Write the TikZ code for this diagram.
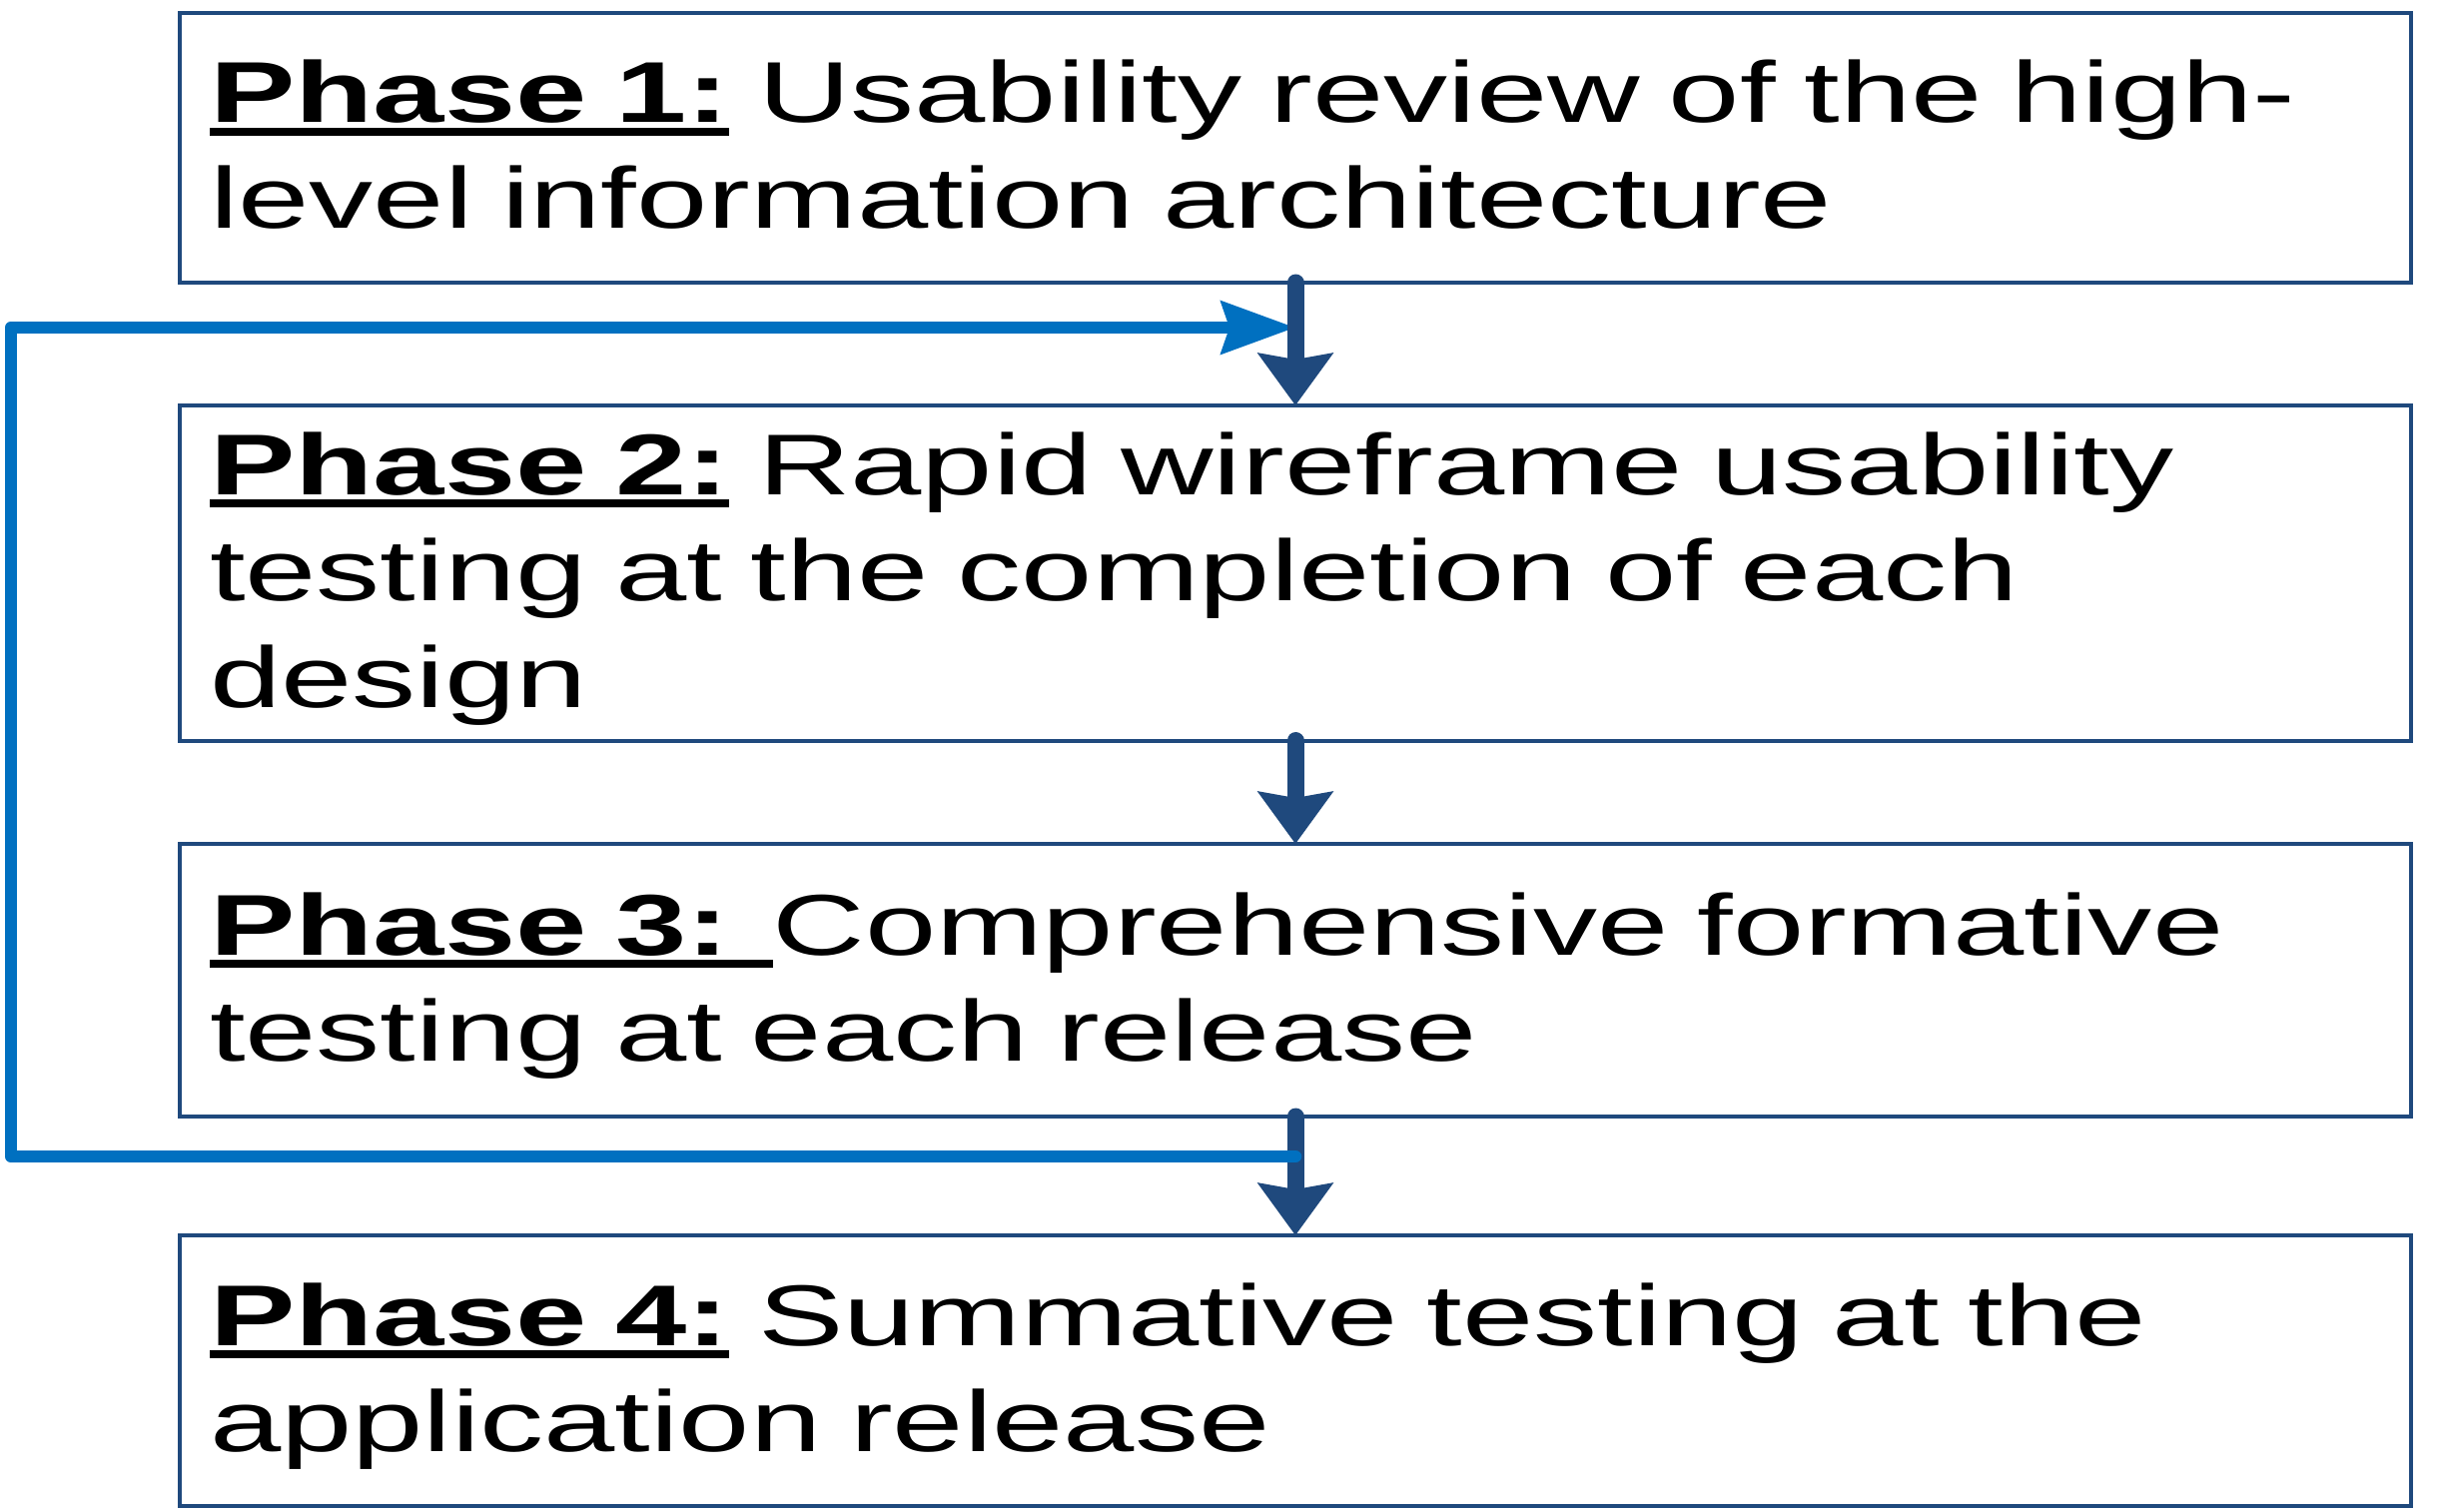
\documentclass[tikz,border=0pt]{standalone}
\usepackage{fontspec}
\usetikzlibrary{positioning,arrows.meta}
\newfontfamily\phasefont{Liberation Sans}[FakeStretch=1.482]
\definecolor{boxblue}{RGB}{31,73,125}
\definecolor{loopblue}{RGB}{0,112,192}
\newsavebox{\tagbox}
\newcommand{\phasetag}[1]{\sbox{\tagbox}{\bfseries #1}\rlap{\raisebox{-1.3mm}{\rule{\wd\tagbox}{0.8mm}}}\usebox{\tagbox}}
\begin{document}
\begin{tikzpicture}[x=1mm,y=1mm,
	phase/.style={draw=boxblue,line width=0.4mm,anchor=north west,minimum width=223.4mm,inner xsep=3mm,inner ysep=0pt,outer sep=0pt,text width=217.4mm,align=left,text height=6mm,font=\phasefont\fontsize{24.6pt}{30.3pt}\selectfont},
	flow/.style={draw=boxblue,line width=1.7mm,line cap=round,-{Stealth[length=5.2mm,width=7.4mm,inset=0.6mm]}},
	feedback/.style={draw=loopblue,line width=1.25mm,line cap=round,line join=round,-{Stealth[length=7.4mm,width=5.2mm,inset=0.8mm]}}]
	\useasboundingbox (0,0) rectangle (245.3,-151.3);
	\node[phase,minimum height=27.05mm,text depth=11.05mm] (box1) at (18,-1.25) {\phasetag{Phase 1:} Usability review of the high-\\level information architecture};
	\node[phase,minimum height=33.55mm,text depth=21.75mm,below=12.3mm of box1] (box2) {\phasetag{Phase 2:} Rapid wireframe usability\\testing at the completion of each\\design};
	\node[phase,minimum height=27.3mm,text depth=11.1mm,below=10.35mm of box2] (box3) {\phasetag{Phase 3: }Comprehensive formative\\testing at each release};
	\node[phase,minimum height=27.1mm,text depth=11.1mm,below=11.9mm of box3] (box4) {\phasetag{Phase 4:} Summative testing at the\\application release};
	\draw[flow] (box2.south) -- (box3.north);
	\draw[flow] (box3.south) -- (box4.north);
	% loop back from phase 3 to phase 2
	\coordinate (loopx) at (1.1,0);
	\coordinate (loopstart) at ([yshift=-4mm]box3.south);
	\coordinate (loopend) at ([yshift=-4.5mm]box1.south);
	\draw[feedback] (loopstart) -- (loopstart -| loopx) -- (loopend -| loopx) -- (loopend);
	\draw[flow] (box1.south) -- (box2.north);
\end{tikzpicture}
\end{document}
